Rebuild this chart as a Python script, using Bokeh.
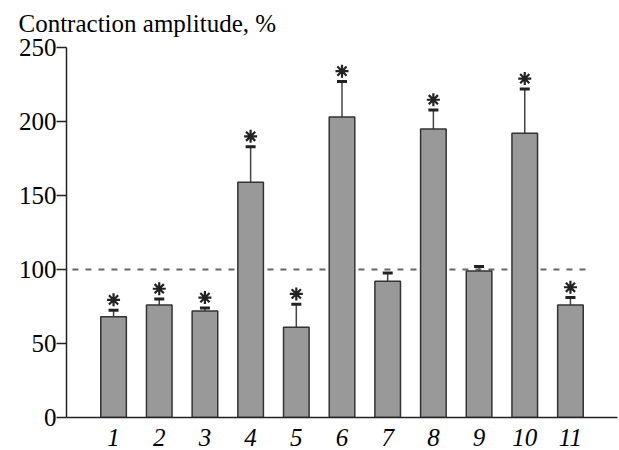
from bokeh.plotting import figure
from bokeh.models import ColumnDataSource, Range1d, FixedTicker, Whisker, TeeHead
from bokeh.embed import file_html
from bokeh.resources import INLINE

groups = [1, 2, 3, 4, 5, 6, 7, 8, 9, 10, 11]
means = [68, 76, 72, 159, 61, 203, 92, 195, 99, 192, 76]
errors = [4.5, 4, 2, 24, 15.5, 24, 5.6, 12.7, 3, 30, 5]
significant = [1, 1, 1, 1, 1, 1, 0, 1, 0, 1, 1]
y_ticks = [0, 50, 100, 150, 200, 250]
reference_level = 100
ylabel = "Contraction amplitude, %"

FONT = "'Liberation Serif', 'Times New Roman', serif"

upper = [m + e for m, e in zip(means, errors)]
lower = [m - e for m, e in zip(means, errors)]
src = ColumnDataSource(dict(x=groups, top=means, upper=upper, lower=lower))

star_x = [g for g, s in zip(groups, significant) if s]
star_y = [u + 7 for u, s in zip(upper, significant) if s]

p = figure(width=619, height=450, output_backend="svg", toolbar_location=None,
           x_range=Range1d(-0.03, 12.03), y_range=Range1d(0, 250),
           min_border_left=66, min_border_right=2, min_border_top=47, min_border_bottom=33)
p.outline_line_color = None
p.grid.visible = False
p.background_fill_color = "white"

p.title.text = ylabel
p.title.align = "left"
p.title.vertical_align = "top"
p.title.offset = -48
p.title.text_font = FONT
p.title.text_font_size = "25px"
p.title.text_font_style = "normal"
p.title.text_color = "black"
p.title.standoff = 18

# reference line
p.segment(x0=[0.1], x1=[11.44], y0=[reference_level], y1=[reference_level],
          line_color="#666666", line_width=2, line_dash="6 7")

p.vbar(x="x", top="top", width=0.56, bottom=0, source=src,
       fill_color="#999999", line_color="#333333", line_width=1.5)

w = Whisker(source=src, base="x", upper="upper", lower="lower",
            line_color="#444444", line_width=1.5,
            upper_head=TeeHead(size=10, line_width=3, line_color="#222222"),
            lower_head=TeeHead(size=10, line_width=3, line_color="#222222"))
p.add_layout(w)

p.scatter(x=star_x, y=star_y, marker="asterisk", size=13,
          line_color="#222222", line_width=2.2)

# axes
p.yaxis.ticker = FixedTicker(ticks=y_ticks)
p.yaxis.minor_tick_line_color = None
p.yaxis.major_tick_out = 10
p.yaxis.major_tick_in = 0
p.yaxis.axis_line_width = 1.5
p.yaxis.axis_line_color = "#222222"
p.yaxis.major_tick_line_color = "#222222"
p.yaxis.major_tick_line_width = 1.5
p.yaxis.major_label_text_font = FONT
p.yaxis.major_label_text_font_size = "25px"
p.yaxis.major_label_text_color = "black"
p.yaxis.major_label_standoff = 0

p.xaxis.ticker = FixedTicker(ticks=groups)
p.xaxis.major_tick_line_color = None
p.xaxis.minor_tick_line_color = None
p.xaxis.axis_line_width = 1.5
p.xaxis.axis_line_color = "#222222"
p.xaxis.major_label_text_font = FONT
p.xaxis.major_label_text_font_size = "25px"
p.xaxis.major_label_text_font_style = "italic"
p.xaxis.major_label_text_color = "black"
p.xaxis.major_label_standoff = 5

open("out.html", "w").write(file_html(p, INLINE))
